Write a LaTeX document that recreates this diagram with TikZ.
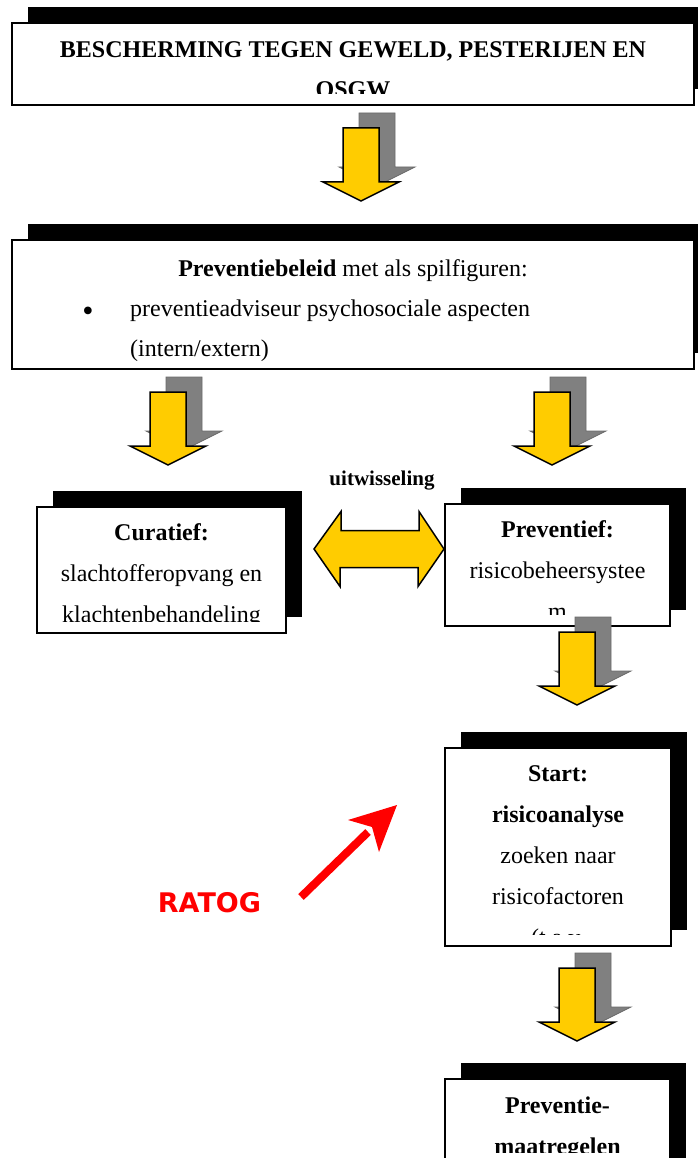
\documentclass[tikz,border=0pt]{standalone}
\usepackage{fontspec}
\setmainfont{Liberation Serif}
\newfontfamily\ratogfont{DejaVu Sans}
\usetikzlibrary{shadows,fit}
\definecolor{ayellow}{HTML}{FFCC00}
\definecolor{agray}{HTML}{808080}
\definecolor{agrayline}{HTML}{6A6A6A}
\definecolor{ared}{HTML}{FF0000}
\begin{document}
\begin{tikzpicture}[x=1pt,y=-1pt,
  box/.style={draw=black, line width=2pt, fill=white, inner sep=0pt,
    general shadow={fill=black, shadow xshift=16pt, shadow yshift=16pt}},
  txt/.style={inner sep=0pt, anchor=base, font=\fontsize{24}{28}\selectfont},
  btxt/.style={txt, font=\fontsize{24}{28}\selectfont\bfseries},
  yellowarrow/.style={fill=ayellow, draw=black, line width=1.5pt, line join=miter},
  grayarrow/.style={fill=agray, draw=agrayline, line width=0.8pt, line join=miter},
  blockdown/.pic={
    \path[grayarrow] (-2,-88) -- (34,-88) -- (34,-34) -- (54,-34) -- (16,-15) -- (-22,-34) -- (-2,-34) -- cycle;
    \path[yellowarrow] (-18,-73) -- (18,-73) -- (18,-19) -- (38,-19) -- (0,0) -- (-38,-19) -- (-18,-19) -- cycle;
  }]
\useasboundingbox (0,0) rectangle (698,1158);
\clip (0,0) rectangle (698,1158);
\fill[white] (0,0) rectangle (698,1158);

% Box 1
\node[box, fit={(12,23) (694,105)}] (b1) {};
\begin{scope}
  \clip (12,23) rectangle (694,94);
  \node[btxt] (b1l1) at (353,58) {BESCHERMING TEGEN GEWELD, PESTERIJEN EN};
  \node[btxt] (b1l2) at (353,98) {OSGW};
\end{scope}

% Box 2
\node[box, fit={(12,240) (694,369)}] (b2) {};
\begin{scope}
  \clip (12,240) rectangle (694,361);
  \node[txt] (b2l1) at (353,276) {\textbf{Preventiebeleid} met als spilfiguren:};
  \node[txt, font=\fontsize{32}{34}\selectfont] (b2bul) at (88,321) {•};
  \node[txt, anchor=base west] (b2l2) at (130,316) {preventieadviseur psychosociale aspecten};
  \node[txt, anchor=base west] (b2l3) at (130,356) {(intern/extern)};
\end{scope}

% Box 3 Curatief
\node[box, fit={(37,507) (286,633)}] (b3) {};
\begin{scope}
  \clip (37,507) rectangle (286,621);
  \node[btxt] (b3l1) at (161.5,540) {Curatief:};
  \node[txt] (b3l2) at (161.5,581) {slachtofferopvang en};
  \node[txt] (b3l3) at (161.5,622) {klachtenbehandeling};
\end{scope}

% Box 4 Preventief
\node[box, fit={(445,504) (670,626)}] (b4) {};
\begin{scope}
  \clip (445,504) rectangle (670,614);
  \node[btxt] (b4l1) at (557.5,537) {Preventief:};
  \node[txt] (b4l2) at (557.5,578) {risicobeheersystee};
  \node[txt] (b4l3) at (557.5,619) {m};
\end{scope}

% Box 5 Start
\node[box, fit={(445,748) (671,946)}] (b5) {};
\begin{scope}
  \clip (445,748) rectangle (671,934);
  \node[btxt] (b5l1) at (558,781) {Start:};
  \node[btxt] (b5l2) at (558,822) {risicoanalyse};
  \node[txt] (b5l3) at (558,863) {zoeken naar};
  \node[txt] (b5l4) at (558,904) {risicofactoren};
  \node[txt] (b5l5) at (558,945) {(t.a.v.};
\end{scope}

% Box 6 Preventiemaatregelen
\node[box, fit={(445,1079) (670,1180)}] (b6) {};
\begin{scope}
  \clip (445,1079) rectangle (670,1152);
  \node[btxt] (b6l1) at (557.5,1113) {Preventie-};
  \node[btxt] (b6l2) at (557.5,1154) {maatregelen};
\end{scope}

% block arrows
\pic (a1) at (361,201) {blockdown};
\pic (a2) at (168,465) {blockdown};
\pic (a3) at (552,465) {blockdown};
\pic (a4) at (577,705) {blockdown};
\pic (a5) at (577,1041) {blockdown};

% exchange double arrow
\node[inner sep=0pt, anchor=base, font=\fontsize{21}{24}\selectfont\bfseries] (uitw) at (382,485) {uitwisseling};
\coordinate (dl) at (314,549);
\coordinate (dr) at (b4.west |- dl);
\path[yellowarrow] (dl) -- ++(27,-37.5) -- ++(0,19) -- ++(78,0) -- ++(0,-19) -- (dr)
  -- ++(-26,37.5) -- ++(0,-19) -- ++(-78,0) -- ++(0,19) -- cycle;

% RATOG
\node[inner sep=0pt, anchor=base, text=ared, font=\ratogfont\bfseries\fontsize{27}{30}\selectfont] (ratog) at (209.5,912) {RATOG};
\coordinate (rs) at (301,897);
\coordinate (re) at (368,832);
\draw[ared, line width=8pt] (rs) -- (re);
\fill[ared] (397,805) -- (348,820) -- (372,827) -- (379,852) -- cycle;
\end{tikzpicture}
\end{document}
